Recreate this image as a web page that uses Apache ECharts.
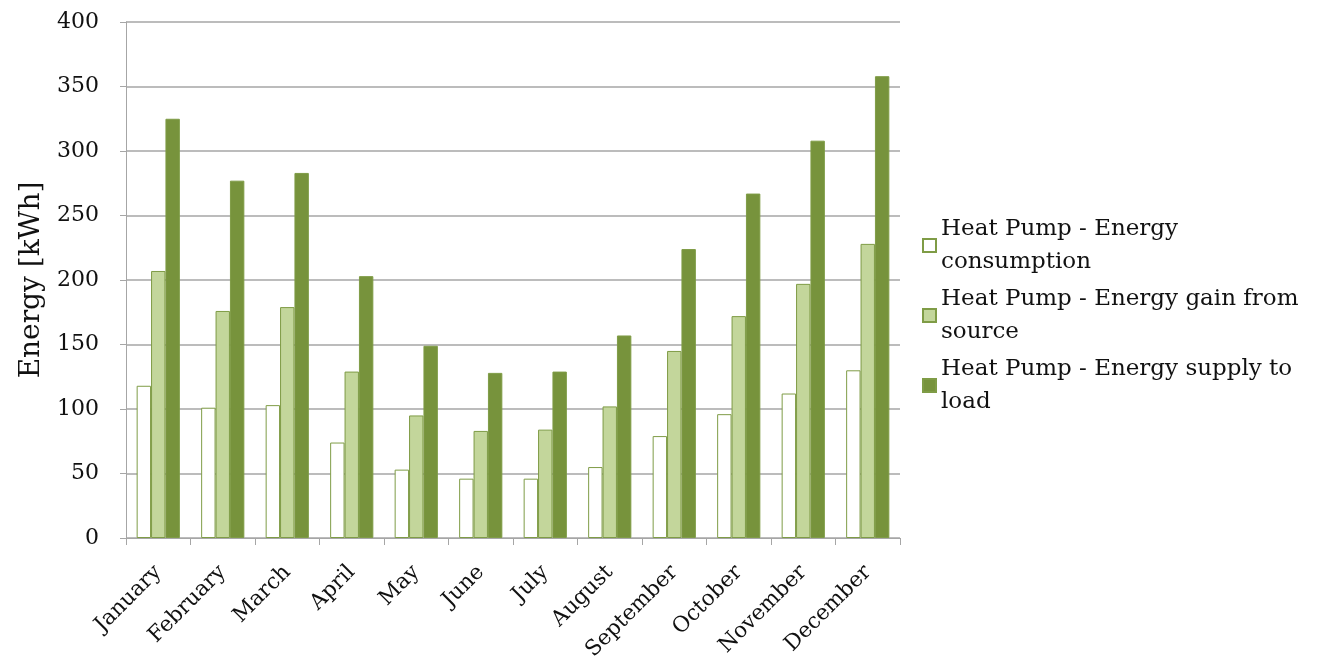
<!DOCTYPE html>
<html>
<head>
<meta charset="utf-8">
<script src="https://cdn.jsdelivr.net/npm/echarts@6/dist/echarts.min.js"></script>
<style>
  html, body { margin: 0; padding: 0; background: #fff; }
  #chart { width: 1319px; height: 665px; }
</style>
</head>
<body>
<div id="chart"></div>
<script>
// Monthly heat pump energy balance, kWh
const months = ['January', 'February', 'March', 'April', 'May', 'June',
  'July', 'August', 'September', 'October', 'November', 'December'];
const consumption = [118, 101, 103, 74, 53, 46, 46, 55, 79, 96, 112, 130];
const gainFromSource = [207, 176, 179, 129, 95, 83, 84, 102, 145, 172, 197, 228];
const supplyToLoad = [325, 277, 283, 203, 149, 128, 129, 157, 224, 267, 308, 358];
const yTicks = [0, 50, 100, 150, 200, 250, 300, 350, 400];

const seriesNames = [
  'Heat Pump - Energy consumption',
  'Heat Pump - Energy gain from source',
  'Heat Pump - Energy supply to load'
];
// legend entries wrap onto two lines
const legendText = {
  'Heat Pump - Energy consumption': 'Heat Pump - Energy\nconsumption',
  'Heat Pump - Energy gain from source': 'Heat Pump - Energy gain from\nsource',
  'Heat Pump - Energy supply to load': 'Heat Pump - Energy supply to\nload'
};

const FONT = 'DejaVu Serif';
const axisGray = '#a6a6a6';
const border = '#7f9c46';
const LINE_H = 33;

const chart = echarts.init(document.getElementById('chart'), null, { renderer: 'canvas' });

function barSeries(name, data, fill) {
  return {
    name: name,
    type: 'bar',
    data: data,
    barGap: '0%',
    barCategoryGap: '33%',
    itemStyle: { color: fill, borderColor: border, borderWidth: 1 },
    emphasis: { disabled: true }
  };
}

chart.setOption({
  animation: false,
  textStyle: { fontFamily: FONT, color: '#111' },
  grid: { left: 126, right: 419, top: 22, bottom: 127, containLabel: false },
  legend: {
    orient: 'vertical',
    left: 917,
    top: 191,
    icon: 'rect',
    itemWidth: 13,
    itemHeight: 13,
    itemGap: 4 - LINE_H,
    data: seriesNames,
    formatter: function (n) { return legendText[n]; },
    // top padding keeps the swatch level with the first text line
    textStyle: {
      fontFamily: FONT, fontSize: 23, color: '#111',
      lineHeight: LINE_H, padding: [LINE_H, 0, 0, 0]
    },
    inactiveColor: '#ccc'
  },
  xAxis: {
    type: 'category',
    data: months,
    axisLine: { lineStyle: { color: axisGray, width: 1 } },
    axisTick: { show: true, alignWithLabel: false, length: 7, lineStyle: { color: axisGray } },
    axisLabel: {
      rotate: 45,
      fontFamily: FONT,
      fontSize: 21.5,
      color: '#111',
      margin: 31,
      interval: 0
    }
  },
  yAxis: {
    type: 'value',
    min: yTicks[0],
    max: yTicks[yTicks.length - 1],
    interval: 50,
    name: 'Energy [kWh]',
    nameLocation: 'middle',
    nameGap: 80,
    nameTextStyle: { fontFamily: FONT, fontSize: 28, color: '#111' },
    axisLine: { show: true, lineStyle: { color: axisGray, width: 1 } },
    axisTick: { show: true, length: 6, inside: false, lineStyle: { color: axisGray } },
    axisLabel: { fontFamily: FONT, fontSize: 22, color: '#111', margin: 27 },
    splitLine: { show: true, lineStyle: { color: axisGray, width: 1.5 } }
  },
  series: [
    barSeries(seriesNames[0], consumption, '#ffffff'),
    barSeries(seriesNames[1], gainFromSource, '#c3d69b'),
    barSeries(seriesNames[2], supplyToLoad, '#77933c')
  ]
});
</script>
</body>
</html>
